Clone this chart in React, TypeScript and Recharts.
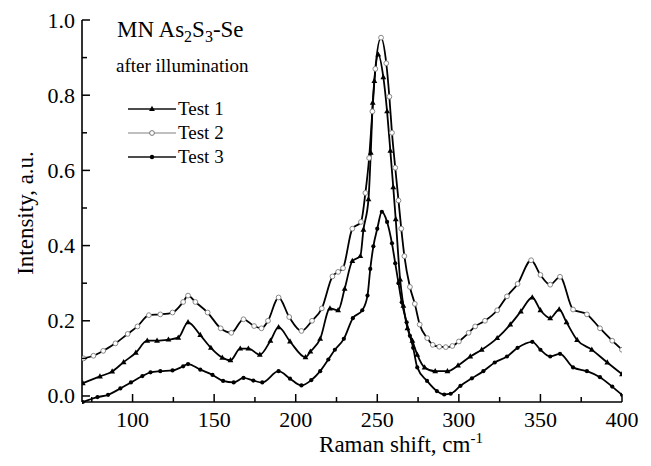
import React from 'react';
import { LineChart, Line, XAxis, YAxis, Legend } from 'recharts';

const FONT = '"Liberation Serif", "Times New Roman", Times, serif';

const seriesNames = ['Test 1', 'Test 2', 'Test 3'];
const titleMain = 'MN As';
const titleSub = 'after illumination';
const xAxisTitle = 'Raman shift, cm';
const yAxisTitle = 'Intensity, a.u.';

const xTicks = [75, 100, 125, 150, 175, 200, 225, 250, 275, 300, 325, 350, 375, 400];
const yTicks = [0, 0.1, 0.2, 0.3, 0.4, 0.5, 0.6, 0.7, 0.8, 0.9, 1];

const test1X = [69.5, 80, 87.5, 94.5, 102, 109, 115, 122, 128, 134, 141.5, 148, 155, 160, 166, 171, 178, 184.5, 189.5, 196.5, 206, 209, 215, 221, 226, 230, 234.7, 239.6, 241.5, 244.6, 246, 247.2, 248.2, 250.6, 253.7, 256, 258, 259.8, 261.3, 264, 266, 268.5, 271.5, 274.5, 279, 285.5, 293, 299.5, 307, 314, 323.5, 331.5, 338, 345, 350, 356, 361.5, 366, 372.5, 381.5, 391, 400];
const test1Y = [0.034, 0.052, 0.065, 0.09, 0.115, 0.147, 0.147, 0.15, 0.155, 0.196, 0.162, 0.128, 0.102, 0.095, 0.126, 0.126, 0.11, 0.147, 0.183, 0.145, 0.103, 0.118, 0.152, 0.233, 0.228, 0.285, 0.359, 0.372, 0.442, 0.523, 0.647, 0.78, 0.838, 0.908, 0.848, 0.757, 0.652, 0.555, 0.47, 0.31, 0.24, 0.18, 0.147, 0.11, 0.076, 0.066, 0.066, 0.081, 0.105, 0.123, 0.154, 0.19, 0.225, 0.262, 0.228, 0.207, 0.23, 0.196, 0.149, 0.123, 0.089, 0.058];

const test2X = [70, 76, 82, 89.5, 97, 103, 110, 117, 124.5, 131, 134, 138.5, 146, 154, 160.5, 168, 174.5, 179, 183, 189.5, 196, 203.5, 210, 216, 222.5, 226, 229, 234.7, 240, 242.7, 245, 247, 248.8, 252.3, 255.5, 257.4, 259, 261, 263, 264.7, 266.6, 270, 273, 276, 280.6, 284, 288, 292, 296, 300, 306, 310, 316, 323.5, 329.5, 336, 344.3, 350, 356, 362, 370, 378.5, 386.5, 394, 400];
const test2Y = [0.1, 0.107, 0.12, 0.14, 0.165, 0.185, 0.215, 0.217, 0.222, 0.25, 0.267, 0.25, 0.222, 0.18, 0.168, 0.204, 0.186, 0.18, 0.2, 0.262, 0.21, 0.173, 0.2, 0.233, 0.318, 0.33, 0.34, 0.445, 0.463, 0.54, 0.633, 0.757, 0.87, 0.953, 0.885, 0.796, 0.7, 0.607, 0.52, 0.445, 0.372, 0.29, 0.245, 0.19, 0.154, 0.136, 0.131, 0.13, 0.133, 0.145, 0.168, 0.185, 0.2, 0.228, 0.265, 0.298, 0.361, 0.322, 0.296, 0.317, 0.23, 0.217, 0.18, 0.147, 0.123];

const test3X = [69.5, 78.5, 85, 92.5, 99, 106, 111, 117, 124.5, 131, 134, 141.5, 149, 155.5, 162, 168, 174, 179.5, 189.5, 196.5, 203.5, 209.5, 215, 220, 224, 229.5, 235, 240.8, 244, 245.7, 247.6, 250, 252.8, 256, 259, 261, 263, 265, 268, 270, 272, 274.5, 280.5, 286.5, 291, 295, 301, 308, 315, 322, 329.5, 336, 345, 350, 356, 362, 370, 378.5, 386.5, 394, 400];
const test3Y = [-0.016, -0.003, 0.003, 0.02, 0.036, 0.053, 0.063, 0.066, 0.068, 0.079, 0.085, 0.07, 0.056, 0.04, 0.036, 0.048, 0.041, 0.036, 0.066, 0.046, 0.028, 0.042, 0.066, 0.097, 0.123, 0.152, 0.207, 0.228, 0.267, 0.338, 0.398, 0.445, 0.49, 0.463, 0.406, 0.353, 0.3, 0.249, 0.196, 0.16, 0.128, 0.076, 0.04, 0.013, 0.004, 0.006, 0.027, 0.047, 0.066, 0.089, 0.105, 0.128, 0.144, 0.123, 0.105, 0.112, 0.076, 0.066, 0.05, 0.025, 0.003];

const toRows = (xs: number[], ys: number[]) => xs.map((x, i) => ({ x, v: ys[i] }));
const test1 = toRows(test1X, test1Y);
const test2 = toRows(test2X, test2Y);
const test3 = toRows(test3X, test3Y);

const LINE = '#000';

const TriangleDot = (props: any) => {
  const { cx, cy } = props;
  if (cx == null || cy == null) return <g />;
  return <path d={`M${cx},${cy - 3.2} L${cx + 2.9},${cy + 2} L${cx - 2.9},${cy + 2} Z`} fill="#000" />;
};
const OpenDot = (props: any) => {
  const { cx, cy } = props;
  if (cx == null || cy == null) return <g />;
  return <circle cx={cx} cy={cy} r={2.4} fill="#fff" stroke="#888" strokeWidth={1} />;
};
const FilledDot = (props: any) => {
  const { cx, cy } = props;
  if (cx == null || cy == null) return <g />;
  return <circle cx={cx} cy={cy} r={2.1} fill="#000" />;
};

const XTick = (props: any) => {
  const { x, y, payload } = props;
  const v = payload.value;
  const major = v % 50 === 0;
  return (
    <g>
      <line x1={x} x2={x} y1={y} y2={y - (major ? 8 : 5)} stroke="#000" strokeWidth={1.5} />
      {major && (
        <text x={x} y={y + 25} textAnchor="middle" fontSize={22} fontFamily={FONT} fill="#000">
          {v}
        </text>
      )}
    </g>
  );
};

const YTick = (props: any) => {
  const { x, y, payload } = props;
  const v = payload.value;
  const major = Math.round(v * 10) % 2 === 0;
  return (
    <g>
      <line x1={x} x2={x + (major ? 8 : 5)} y1={y} y2={y} stroke="#000" strokeWidth={1.5} />
      {major && (
        <text x={x - 7} y={y + 7.5} textAnchor="end" fontSize={22} fontFamily={FONT} fill="#000">
          {v.toFixed(1)}
        </text>
      )}
    </g>
  );
};

const XLabel = () => (
  <text x={393} y={444} textAnchor="middle" fontSize={23} fontFamily={FONT} fill="#000">
    {xAxisTitle}
    <tspan dy={-9} fontSize={15}>-1</tspan>
  </text>
);

const YLabel = () => (
  <text x={25} y={205} transform="rotate(-90 25 205)" textAnchor="middle" fontSize={23} fontFamily={FONT} fill="#000">
    {yAxisTitle}
  </text>
);

const LegendRow = ({ y, name, kind }: { y: number; name: string; kind: number }) => (
  <g>
    <line x1={28} x2={76} y1={y} y2={y} stroke={kind === 1 ? '#aaa' : '#111'} strokeWidth={1.3} />
    {kind === 0 && <path d={`M52,${y - 3.2} L54.9,${y + 2} L49.1,${y + 2} Z`} fill="#000" />}
    {kind === 1 && <circle cx={52} cy={y} r={2.4} fill="#fff" stroke="#777" strokeWidth={1} />}
    {kind === 2 && <circle cx={52} cy={y} r={2.2} fill="#000" />}
    <text x={78} y={y + 6} fontSize={19} fontFamily={FONT} fill="#000">{name}</text>
  </g>
);

const LegendBox = () => (
  <svg width={230} height={170} style={{ display: 'block' }}>
    <text x={17} y={27} fontSize={23} fontFamily={FONT} fill="#000">
      {titleMain}
      <tspan dy={5} fontSize={16}>2</tspan>
      <tspan dy={-5}>S</tspan>
      <tspan dy={5} fontSize={16}>3</tspan>
      <tspan dy={-5}>-Se</tspan>
    </text>
    <text x={16} y={62} fontSize={19} fontFamily={FONT} fill="#000">{titleSub}</text>
    <LegendRow y={99} name={seriesNames[0]} kind={0} />
    <LegendRow y={123} name={seriesNames[1]} kind={1} />
    <LegendRow y={147} name={seriesNames[2]} kind={2} />
  </svg>
);

export default function App() {
  return (
    <div style={{ width: 643, height: 458, background: '#fff' }}>
      <LineChart width={643} height={458} margin={{ top: 12, right: 29, bottom: 0, left: 0 }}>
        <XAxis
          dataKey="x"
          type="number"
          domain={[69, 400]}
          allowDataOverflow
          ticks={xTicks}
          interval={0}
          height={64}
          tickSize={0}
          tickMargin={0}
          tickLine={false}
          tick={<XTick />}
          axisLine={{ stroke: '#000', strokeWidth: 1.6 }}
          label={<XLabel />}
        />
        <YAxis
          type="number"
          domain={() => [0, 1]}
          ticks={yTicks}
          interval={0}
          width={74}
          tickSize={0}
          tickMargin={0}
          tickLine={false}
          tick={<YTick />}
          axisLine={{ stroke: '#000', strokeWidth: 1.6 }}
          label={<YLabel />}
        />
        <Legend
          layout="vertical"
          align="center"
          verticalAlign="middle"
          content={<LegendBox />}
          wrapperStyle={{ left: 92, top: 2, width: 230, height: 170 }}
        />
        <Line data={test2} dataKey="v" name={seriesNames[1]} type="monotone" stroke={LINE} strokeWidth={1.8} dot={<OpenDot />} activeDot={false} isAnimationActive={false} />
        <Line data={test1} dataKey="v" name={seriesNames[0]} type="monotone" stroke={LINE} strokeWidth={1.8} dot={<TriangleDot />} activeDot={false} isAnimationActive={false} />
        <Line data={test3} dataKey="v" name={seriesNames[2]} type="monotone" stroke={LINE} strokeWidth={1.8} dot={<FilledDot />} activeDot={false} isAnimationActive={false} />
      </LineChart>
    </div>
  );
}
